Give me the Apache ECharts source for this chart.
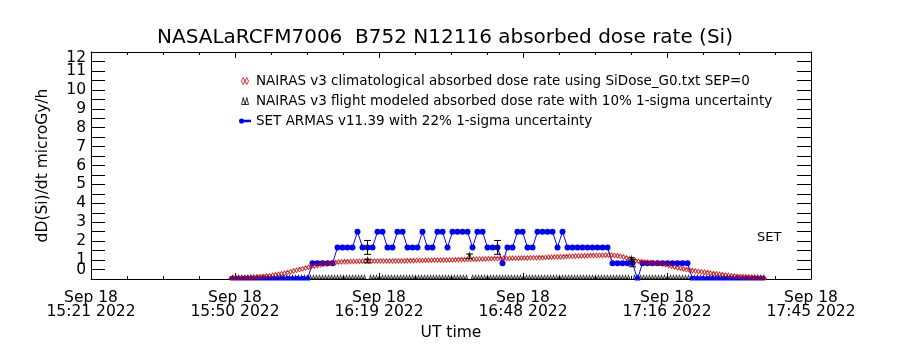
<!DOCTYPE html>
<html><head><meta charset="utf-8">
<script src="https://cdn.jsdelivr.net/npm/echarts/dist/echarts.min.js"></script>
<style>html,body{margin:0;padding:0;background:#fff}#c{width:900px;height:350px}</style>
</head><body><div id="c"></div>
<script>
// ---------- text ----------
const titleText = 'NASALaRCFM7006  B752 N12116 absorbed dose rate (Si)';
const yAxisTitle = 'dD(Si)/dt microGy/h';
const xAxisTitle = 'UT time';
const dateLabel = 'Sep 18';
const yearLabel = '2022';
const setNote = 'SET';
const nameClim = 'NAIRAS v3 climatological absorbed dose rate using SiDose_G0.txt SEP=0';
const nameFlight = 'NAIRAS v3 flight modeled absorbed dose rate with 10% 1-sigma uncertainty';
const nameSet = 'SET ARMAS v11.39 with 22% 1-sigma uncertainty';

// ---------- axes ----------
const axisStart = '15:21:42';     // UT of left edge
const axisSpanSec = 8640;         // to 17:45:42
const xTickStepSec = 1728;        // labelled ticks
const yMin = 0, yMax = 12, yStep = 1;

// ---------- data ----------
// NAIRAS climatological (red diamonds), one value every 36 s
const climStart = '15:49:36';
const climStepSec = 36;
const climValues = [
0.03,0.04,0.04,0.05,0.05,0.06,0.07,0.08,0.09,0.10,
0.12,0.13,0.15,0.17,0.19,0.22,0.25,0.27,0.30,0.34,
0.38,0.42,0.46,0.50,0.54,0.58,0.62,0.66,0.69,0.72,
0.75,0.78,0.80,0.82,0.85,0.87,0.90,0.91,0.92,0.92,
0.93,0.93,0.93,0.94,0.94,0.94,0.94,0.94,0.95,0.95,
0.95,0.95,0.95,0.95,0.95,0.96,0.96,0.96,0.96,0.97,
0.97,0.97,0.98,0.98,0.98,0.99,0.99,0.99,1.00,1.00,
1.00,1.00,1.01,1.01,1.01,1.02,1.02,1.03,1.03,1.04,
1.04,1.05,1.05,1.06,1.06,1.06,1.07,1.07,1.08,1.08,
1.08,1.09,1.09,1.09,1.10,1.10,1.10,1.11,1.11,1.11,
1.12,1.12,1.12,1.13,1.13,1.14,1.15,1.15,1.16,1.17,
1.17,1.18,1.19,1.20,1.20,1.21,1.22,1.22,1.23,1.23,
1.24,1.24,1.25,1.25,1.25,1.26,1.26,1.26,1.25,1.23,
1.20,1.16,1.11,1.06,1.01,0.97,0.94,0.92,0.90,0.88,
0.87,0.86,0.84,0.82,0.79,0.76,0.72,0.68,0.64,0.60,
0.57,0.53,0.50,0.47,0.44,0.42,0.40,0.38,0.36,0.34,
0.31,0.29,0.27,0.25,0.23,0.21,0.19,0.17,0.15,0.13,
0.12,0.11,0.10,0.09,0.08,0.07,0.06,0.05,0.04];

// NAIRAS flight modeled (black triangles), one value every 36 s
const flightStart = '15:50:00';
const flightStepSec = 36;
const flightValues = [
0,0,0,0,0,0,0,0,0,0, 0,0,0,0,0,0,0,0,0,0,
0,0,0,0,0,0,0,0,0,0, 0,0,0,0,0,0,0,0,0,0,
0,0,0,0,0,0.95,0,0,0,0, 0,0,0,0,0,0,0,0,0,0,
0,0,0,0,0,0,0,0,0,0, 0,0,0,0,0,0,0,0,0,1.2,
0,0,0,0,0,0,0,0,0,0, 0,0,0,0,0,0,0,0,0,0,
0,0,0,0,0,0,0,0,0,0, 0,0,0,0,0,0,0,0,0,0,
0,0,0,0,0,0,0,0,0,0, 0,0,0,1.02,0,0,0,0,0,0,
0,0,0,0,0,0,0,0,0,0, 0,0,0,0,0,0,0,0,0,0,
0,0,0,0,0,0,0,0,0,0, 0,0,0,0,0,0,0,0];
const flightSigma = 0.10;

// SET ARMAS (blue), one value per minute
const setStart = '15:50:00';
const setStepSec = 60;
const setValues = [
0,0,0,0,0,0,0,0,0,0,
0,0,0,0,0,0,0.83,0.83,0.83,0.83,
0.83,1.67,1.67,1.67,1.67,2.5,1.67,1.67,1.67,2.5,
2.5,1.67,1.67,2.5,2.5,1.67,1.67,1.67,2.5,1.67,
1.67,2.5,2.5,1.67,2.5,2.5,2.5,2.5,1.67,2.5,
2.5,1.67,1.67,1.67,0.83,1.67,1.67,2.5,2.5,1.67,
1.67,2.5,2.5,2.5,2.5,1.67,2.5,1.67,1.67,1.67,
1.67,1.67,1.67,1.67,1.67,1.67,0.83,0.83,0.83,0.83,
0.83,0,0.83,0.83,0.83,0.83,0.83,0.83,0.83,0.83,
0.83,0.83,0,0,0,0,0,0,0,0,
0,0,0,0,0,0,0];
const setSigma = 0.22;
const setErrIndex = [27, 53, 80];

// ---------- helpers ----------
const toSec = s => { const p = s.split(':').map(Number); return p[0]*3600 + p[1]*60 + (p[2]||0); };
const s0 = toSec(axisStart);
const rel = t => toSec(t) - s0;
const seriesPts = (start, step, vals) => vals.map((v, i) => [rel(start) + i*step, v]);
const pad = n => (n < 10 ? '0' : '') + n;
const fmtX = v => {
  const t = s0 + v; const h = Math.floor(t/3600); const m = Math.floor((t % 3600)/60);
  return dateLabel + '\n' + h + ':' + pad(m) + ' ' + yearLabel;
};

const climData = seriesPts(climStart, climStepSec, climValues);
const flightData = seriesPts(flightStart, flightStepSec, flightValues);
const setData = seriesPts(setStart, setStepSec, setValues);

const errData = [];
setErrIndex.forEach(i => { const p = setData[i]; errData.push([p[0], p[1]*(1-setSigma), p[1]*(1+setSigma)]); });
flightData.forEach(p => { if (p[1] > 0) errData.push([p[0], p[1]*(1-flightSigma), p[1]*(1+flightSigma)]); });

const FONT = "'DejaVu Sans', sans-serif";
const RED = '#cc0000', BLUE = '#0000ff', BLACK = '#000000';
const TICKFONT = 15.5;

const axisCommonX = {
  type: 'value', min: 0, max: axisSpanSec, interval: xTickStepSec,
  axisLine: { show: true, onZero: false, lineStyle: { color: BLACK, width: 1 } },
  axisTick: { show: true, inside: true, length: 6, lineStyle: { color: BLACK } },
  minorTick: { show: true, splitNumber: 4, length: 3, lineStyle: { color: BLACK } },
  splitLine: { show: false }, minorSplitLine: { show: false }
};
const axisCommonY = {
  type: 'value', min: yMin, max: yMax, interval: yStep,
  axisLine: { show: true, onZero: false, lineStyle: { color: BLACK, width: 1 } },
  axisTick: { show: true, inside: true, length: 14, lineStyle: { color: BLACK } },
  minorTick: { show: true, splitNumber: 2, length: 14, lineStyle: { color: BLACK } },
  splitLine: { show: false }, minorSplitLine: { show: false }
};

const chart = echarts.init(document.getElementById('c'), null, { renderer: 'canvas' });
chart.setOption({
  animation: false,
  backgroundColor: '#ffffff',
  grid: { left: 91, right: 89, top: 52, bottom: 71, containLabel: false, outerBoundsMode: 'none' },
  xAxis: [
    Object.assign({}, axisCommonX, {
      position: 'bottom',
      name: xAxisTitle, nameLocation: 'middle', nameGap: 46, nameMoveOverlap: false,
      nameTextStyle: { fontFamily: FONT, fontSize: TICKFONT, color: BLACK },
      axisLabel: { show: true, formatter: fmtX, fontFamily: FONT, fontSize: TICKFONT, lineHeight: 14,
        color: BLACK, margin: 12, showMinLabel: true, showMaxLabel: true, hideOverlap: false }
    }),
    Object.assign({}, axisCommonX, { position: 'top', axisLabel: { show: false } })
  ],
  yAxis: [
    Object.assign({}, axisCommonY, {
      position: 'left',
      name: yAxisTitle, nameLocation: 'middle', nameGap: 40, nameMoveOverlap: false,
      nameTextStyle: { fontFamily: FONT, fontSize: TICKFONT, color: BLACK },
      axisLabel: { show: true, margin: 5, fontFamily: FONT, fontSize: TICKFONT, color: BLACK,
        hideOverlap: false,
        // end labels are drawn separately (nudged inside the frame, as in the original)
        formatter: v => (v === yMin || v === yMax) ? '' : String(v) }
    }),
    Object.assign({}, axisCommonY, { position: 'right', axisLabel: { show: false } })
  ],
  legend: {
    show: true, orient: 'vertical', left: 234, top: 69, itemGap: 6,
    itemWidth: 12, itemHeight: 7,
    textStyle: { fontFamily: FONT, fontSize: 13.5, color: BLACK },
    selectedMode: false,
    data: [
      { name: nameClim, icon: 'path://M0,3L1.5,0L3,3L1.5,6Z M3,3L4.5,0L6,3L4.5,6Z',
        itemStyle: { color: 'rgba(0,0,0,0)', borderColor: RED, borderWidth: 1 } },
      { name: nameFlight, icon: 'path://M0,6L1.5,0L3,6Z M3,6L4.5,0L6,6Z',
        itemStyle: { color: 'rgba(0,0,0,0)', borderColor: BLACK, borderWidth: 1 } },
      { name: nameSet, icon: 'path://M0,4A3,3,0,1,1,6,4A3,3,0,1,1,0,4Z M4,2.5L14,2.5L14,5.5L4,5.5Z',
        itemStyle: { color: BLUE, borderWidth: 0 } }
    ]
  },
  graphic: [
    { id: 'title', type: 'text', x: 445, y: 38, z: 100,
      style: { text: titleText, font: "20px 'DejaVu Sans', sans-serif", fill: BLACK, align: 'center', verticalAlign: 'middle' } },
    { id: 'setnote', type: 'text', x: 757, y: 238, z: 100,
      style: { text: setNote, font: "13px 'DejaVu Sans', sans-serif", fill: BLACK, align: 'left', verticalAlign: 'middle' } },
    { id: 'mask', type: 'rect', z: 100, shape: { x: 92, y: 280.5, width: 718, height: 7 }, style: { fill: '#ffffff' } }
  ],
  series: [
    { name: nameFlight, type: 'scatter', data: flightData, symbol: 'triangle', symbolSize: [2.5, 3.5],
      symbolOffset: [0, -2], itemStyle: { color: 'rgba(0,0,0,0)', borderColor: BLACK, borderWidth: 1 }, z: 2,
      emphasis: { disabled: true } },
    { name: nameSet, type: 'line', data: setData, symbol: 'circle', symbolSize: 6, showSymbol: true,
      itemStyle: { color: BLUE }, lineStyle: { color: BLUE, width: 1 }, z: 3, emphasis: { disabled: true } },
    { name: nameClim, type: 'scatter', data: climData, symbol: 'diamond', symbolSize: [3.5, 4.5],
      itemStyle: { color: 'rgba(0,0,0,0)', borderColor: RED, borderWidth: 1 }, z: 4, emphasis: { disabled: true } },
    { name: 'errorbars', type: 'custom', data: errData, z: 5, encode: { x: 0, y: [1, 2] },
      renderItem: (params, api) => {
        const x = api.value(0), lo = api.value(1), hi = api.value(2);
        const a = api.coord([x, lo]), b = api.coord([x, hi]);
        const w = 3.5, st = { stroke: BLACK, lineWidth: 1, fill: null };
        return { type: 'group', children: [
          { type: 'line', shape: { x1: a[0], y1: a[1], x2: b[0], y2: b[1] }, style: st },
          { type: 'line', shape: { x1: a[0]-w, y1: a[1], x2: a[0]+w, y2: a[1] }, style: st },
          { type: 'line', shape: { x1: b[0]-w, y1: b[1], x2: b[0]+w, y2: b[1] }, style: st }
        ] };
      } }
  ]
});

// end labels of the y axis, placed through the axis scale and nudged inside the frame
const yPixMin = chart.convertToPixel({ yAxisIndex: 0 }, yMin);
const yPixMax = chart.convertToPixel({ yAxisIndex: 0 }, yMax);
const xPixLeft = chart.convertToPixel({ xAxisIndex: 0 }, 0);
const endFont = TICKFONT + "px 'DejaVu Sans', sans-serif";
chart.setOption({ graphic: [
  { id: 'ymin', type: 'text', x: xPixLeft - 5, y: yPixMin - 9, z: 100,
    style: { text: String(yMin), font: endFont, fill: BLACK, align: 'right', verticalAlign: 'middle' } },
  { id: 'ymax', type: 'text', x: xPixLeft - 5, y: yPixMax + 6, z: 100,
    style: { text: String(yMax), font: endFont, fill: BLACK, align: 'right', verticalAlign: 'middle' } }
] });
</script></body></html>
